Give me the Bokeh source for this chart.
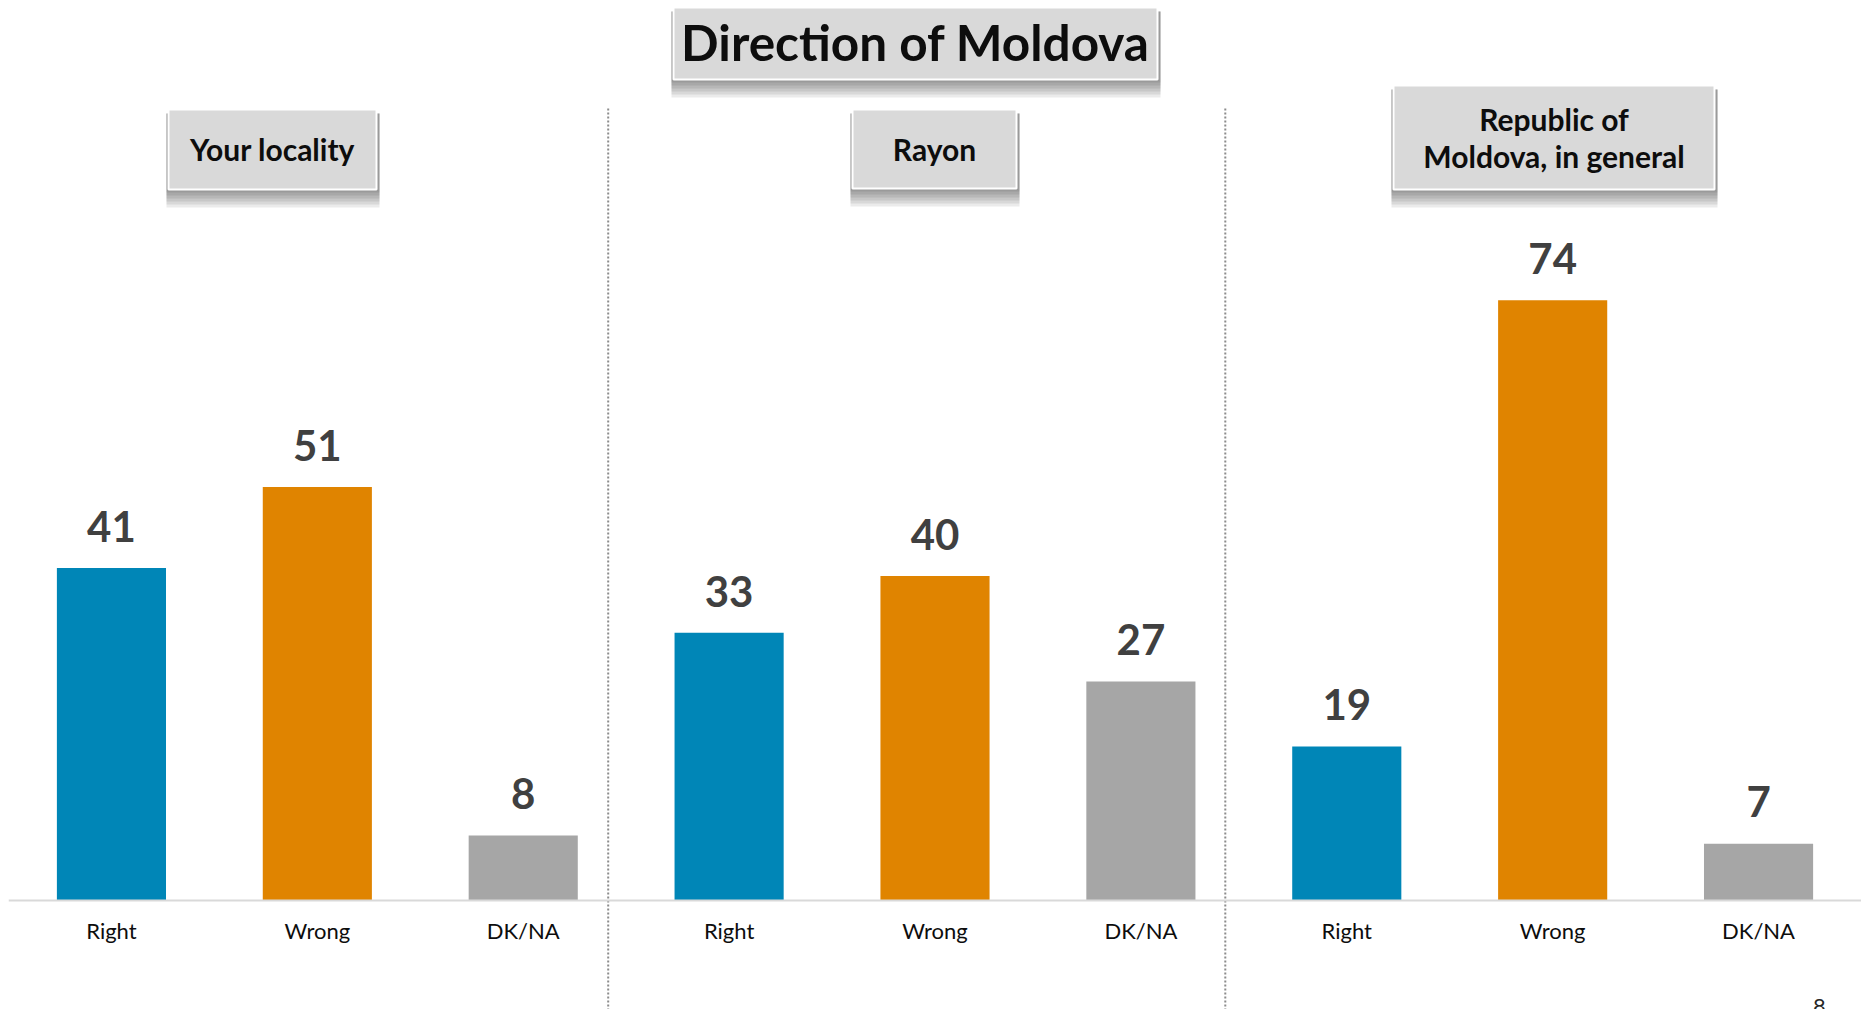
from bokeh.plotting import figure
from bokeh.models import FactorRange, Range1d, ColumnDataSource
from bokeh.core.properties import value
from bokeh.embed import file_html
from bokeh.resources import INLINE

# ---- data ----
chart_title = "Direction of Moldova"
panels = ["Your locality", "Rayon", "Republic of Moldova, in general"]
panel_title_lines = [["Your locality"], ["Rayon"], ["Republic of", "Moldova, in general"]]
categories = ["Right", "Wrong", "DK/NA"]
your_locality = [41, 51, 8]
rayon = [33, 40, 27]
republic_of_moldova = [19, 74, 7]
page_number = "8"

series = [your_locality, rayon, republic_of_moldova]
cat_colors = ["#0086B7", "#E08400", "#A6A6A6"]

# ---- layout constants (pixels) ----
W, H = 1861, 1009
LEFT = 8
BASE_PX = 900          # baseline position from top
PPU = 8.11             # pixels per percentage point
FONT = value("Lato")
SHIFT = 0.4            # empirical baseline correction (em)

factors = [(pn, c) for pn in panels for c in categories]
N = len(factors)
vals = [v for s in series for v in s]
cols = [cat_colors[i % 3] for i in range(len(vals))]


def sx(px):
    """canvas pixel x -> synthetic categorical coordinate"""
    return (px - LEFT) / (W - LEFT) * N


def by(px, fs):
    """desired baseline pixel -> y value in the 'px' range"""
    return px - SHIFT * fs


x_range = FactorRange(*factors, group_padding=0, factor_padding=0, range_padding=0)
y_range = Range1d(-(H - BASE_PX) / PPU, BASE_PX / PPU)

p = figure(width=W, height=H, x_range=x_range, y_range=y_range,
           output_backend="svg", toolbar_location=None, y_axis_location=None,
           min_border_left=LEFT, min_border_right=0, min_border_top=0, min_border_bottom=0)
p.extra_y_ranges = {"px": Range1d(H, 0)}
p.outline_line_color = None
p.xgrid.grid_line_color = None
p.ygrid.grid_line_color = None
p.background_fill_color = "white"
p.border_fill_color = "white"

ax = p.xaxis[0]
ax.fixed_location = 0
ax.axis_line_color = "#D9D9D9"
ax.axis_line_width = 2
ax.major_tick_line_color = None
ax.minor_tick_line_color = None
ax.major_label_text_font = "Lato"
ax.major_label_text_font_size = "22px"
ax.major_label_text_color = "#0d0d0d"
ax.major_label_standoff = 10
ax.group_text_font_size = "0px"
ax.group_text_color = None
ax.separator_line_color = None

# bars
VAL_FS = 42
src = ColumnDataSource(dict(x=factors, top=vals, color=cols,
                            label=[str(v) for v in vals],
                            ly=[v + (25 + SHIFT * VAL_FS) / PPU for v in vals]))
p.vbar(x="x", top="top", bottom=0, width=0.53, fill_color="color", line_color=None, source=src)
p.text(x="x", y="ly", text="label", source=src, text_font=FONT, text_font_style="bold",
       text_font_size=f"{VAL_FS}px", text_color="#404040", text_align="center",
       text_baseline="alphabetic")

# separators
sep_x = [sx(607.7), sx(1224.8)]
p.segment(x0=sep_x, y0=[108, 108], x1=sep_x, y1=[H, H],
          y_range_name="px", line_color="#8C8C8C",
          line_width=2, line_dash="2 2")

# boxes: (left, right, top, bottom) in px
boxes = [
    (673, 1157, 7, 79),      # title
    (168, 376, 109, 189),    # your locality
    (852, 1016, 109, 188),   # rayon
    (1393, 1714, 85, 189),   # republic
]
for (l, r, t, b) in boxes:
    for d in [3, 6, 9, 12, 15, 18]:
        p.quad(left=[sx(l - 2)], right=[sx(r + 3)], top=[t + 4], bottom=[b + d],
               y_range_name="px",
               fill_color="black", fill_alpha=0.08, line_color=None)
    p.quad(left=[sx(l)], right=[sx(r)], top=[t], bottom=[b], y_range_name="px",
           fill_color="#D9D9D9", line_color="white", line_width=2)

# title text
T_FS = 49.5
p.text(x=[sx(915)], y=[by(61.7, T_FS)], text=[chart_title], y_range_name="px",
       text_font=FONT, text_font_style="bold", text_font_size=f"{T_FS}px",
       text_color="#0d0d0d", text_align="center", text_baseline="alphabetic")

# panel titles
S_FS = 30
centers = [272, 934, 1553.5]
baselines = [[160.5], [160.0], [130.0, 167.3]]
for cx, lines, bls in zip(centers, panel_title_lines, baselines):
    p.text(x=[sx(cx)] * len(lines), y=[by(b, S_FS) for b in bls], text=lines,
           y_range_name="px",
           text_font=FONT, text_font_style="bold", text_font_size=f"{S_FS}px",
           text_color="#0d0d0d", text_align="center", text_baseline="alphabetic")

# page number
P_FS = 22
p.text(x=[sx(1819)], y=[by(1015, P_FS)], text=[page_number], y_range_name="px",
       text_font=FONT, text_font_size=f"{P_FS}px", text_color="#262626",
       text_align="center", text_baseline="alphabetic")

open("out.html", "w").write(file_html(p, INLINE))
